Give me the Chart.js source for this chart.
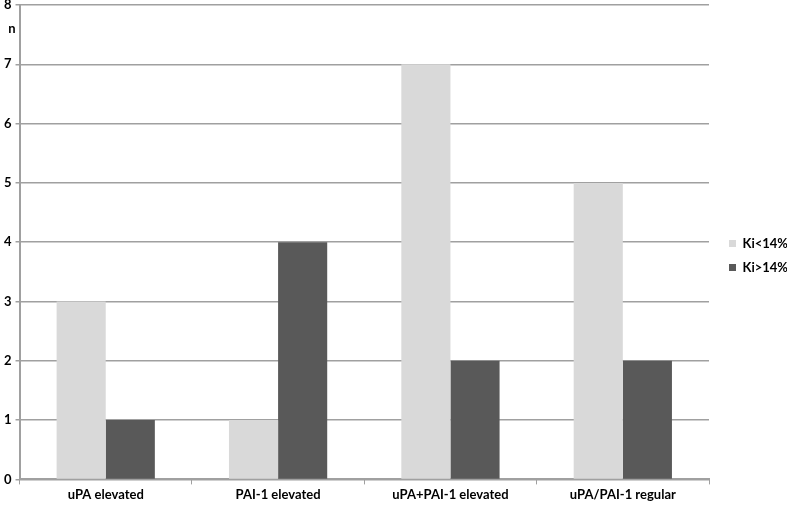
<!DOCTYPE html>
<html>
<head>
<meta charset="utf-8">
<script src="https://cdn.jsdelivr.net/npm/chart.js@4/dist/chart.umd.min.js"></script>
<style>
  html, body { margin: 0; padding: 0; background: #fff; }
  #wrap { width: 787px; height: 506px; }
</style>
</head>
<body>
<div id="wrap"><canvas id="c" width="787" height="506"></canvas></div>
<script>
// donnees
const categories = ['uPA elevated', 'PAI-1 elevated', 'uPA+PAI-1 elevated', 'uPA/PAI-1 regular'];
const kiLow = [3, 1, 7, 5];
const kiHigh = [1, 4, 2, 2];
const seriesNames = ['Ki<14%', 'Ki>14%'];

const police = "Lato, 'Open Sans', sans-serif";

// petit titre "n" en haut de l'axe y
const axisLabel = {
    id: 'axisLabel',
    afterLayout(chart) {
        // decale la legende vers la droite comme sur l'original
        const lg = chart.legend;
        const w = lg.right - lg.left;
        lg.left = chart.chartArea.right + 9;
        lg.right = lg.left + w;
    },
    afterDraw(chart) {
        const y = chart.scales.y;
        const ctx = chart.ctx;
        ctx.save();
        ctx.font = 'bold 13px ' + police;
        ctx.fillStyle = '#000';
        ctx.textAlign = 'center';
        ctx.textBaseline = 'middle';
        ctx.fillText('n', 12, y.getPixelForValue(7.6));
        ctx.restore();
    }
};

new Chart(document.getElementById('c'), {
    type: 'bar',
    data: {
        labels: categories,
        datasets: [
            { label: seriesNames[0], data: kiLow, backgroundColor: '#d9d9d9' },
            { label: seriesNames[1], data: kiHigh, backgroundColor: '#595959' }
        ]
    },
    options: {
        responsive: false,
        animation: false,
        layout: { padding: { top: 5, right: 0, left: 0, bottom: 0 } },
        datasets: { bar: { categoryPercentage: 0.57, barPercentage: 1 } },
        plugins: {
            tooltip: { enabled: false },
            legend: {
                position: 'right',
                maxWidth: 78,
                labels: {
                    boxWidth: 7,
                    boxHeight: 7,
                    padding: 11,
                    color: '#000',
                    font: { family: police, size: 13, weight: 'bold' }
                }
            }
        },
        scales: {
            x: {
                grid: { offset: true, drawOnChartArea: false, color: '#a0a0a0', tickLength: 5 },
                border: { color: '#a0a0a0', width: 2 },
                ticks: { color: '#000', padding: 3, font: { family: police, size: 13, weight: 'bold' } }
            },
            y: {
                min: 0,
                max: 8,
                afterFit(scale) { scale.paddingTop = 0; },
                grid: { color: '#a0a0a0', lineWidth: 1.5, tickLength: 4 },
                border: { color: '#a0a0a0', width: 2 },
                ticks: { stepSize: 1, color: '#000', padding: 4, font: { family: police, size: 13, weight: 'bold' } }
            }
        }
    },
    plugins: [axisLabel]
});
</script>
</body>
</html>
